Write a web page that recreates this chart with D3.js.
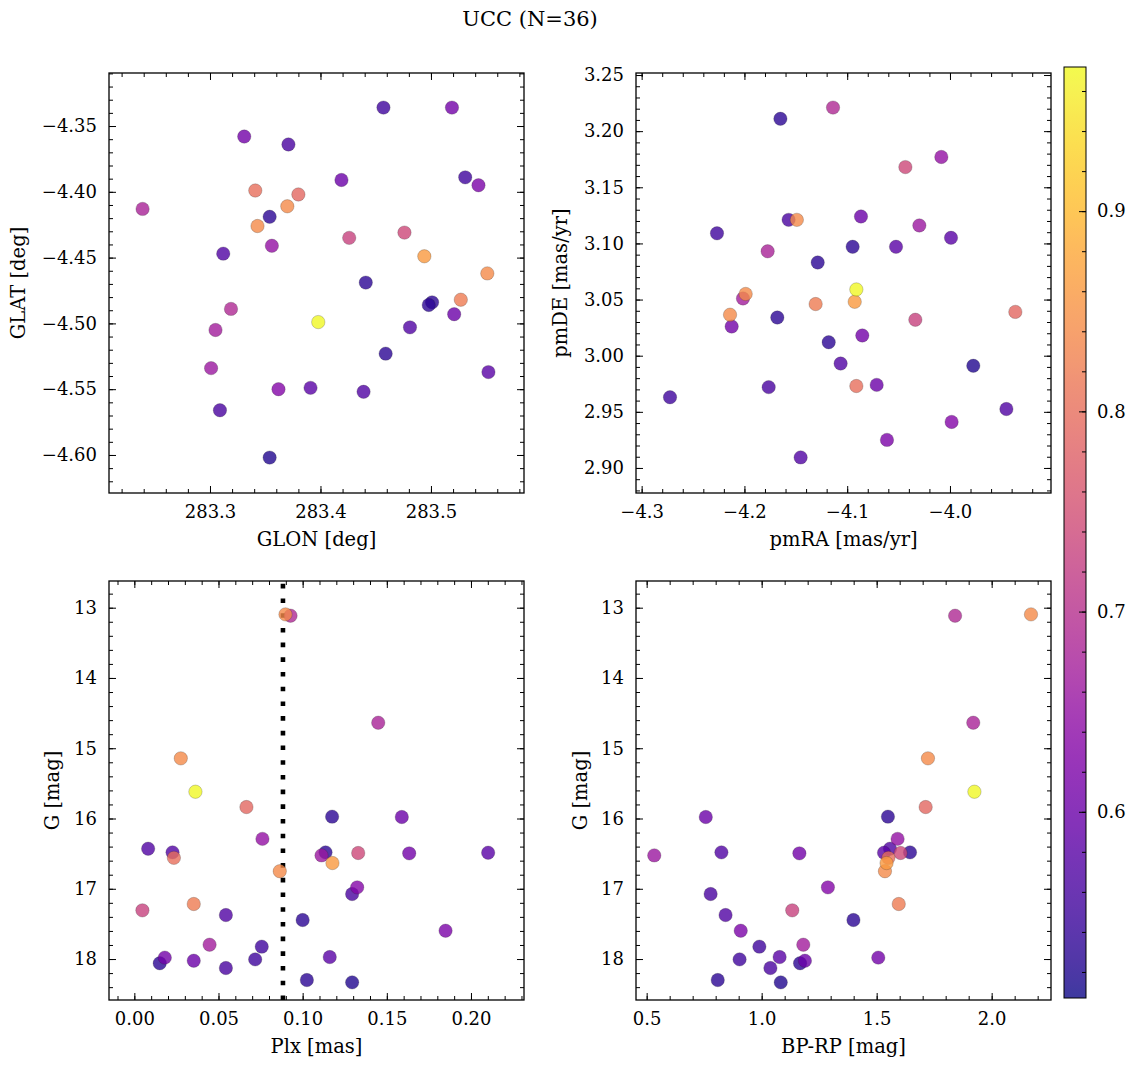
<!DOCTYPE html>
<html><head><meta charset="utf-8">
<script src="https://cdn.jsdelivr.net/npm/d3@7"></script>
<style>
body{margin:0;background:#fff}
svg{display:block}
text{font-family:"DejaVu Serif",serif;fill:#000}
</style>
</head><body>
<div id="chart"></div>
<script>
// ---- data (one entry per star) ----
const glon = [283.551,283.319,283.239,283.370,283.398,283.380,283.354,283.419,283.356,283.439,
              283.312,283.331,283.552,283.441,283.301,283.476,283.341,283.494,283.343,283.362,
              283.309,283.426,283.527,283.481,283.501,283.543,283.305,283.457,283.519,283.391,
              283.531,283.521,283.498,283.371,283.459,283.354];
const glat = [-4.462,-4.489,-4.413,-4.411,-4.499,-4.402,-4.419,-4.391,-4.441,-4.552,
              -4.447,-4.358,-4.537,-4.469,-4.534,-4.431,-4.399,-4.449,-4.426,-4.550,
              -4.566,-4.435,-4.482,-4.503,-4.484,-4.395,-4.505,-4.336,-4.336,-4.549,
              -4.389,-4.493,-4.486,-4.364,-4.523,-4.602];
const pmra = [-4.149,-4.1138,-4.1774,-4.1988,-4.0911,-3.9364,-4.165,-4.0713,-4.0084,-4.1064,
              -3.9451,-4.0853,-4.0525,-4.1287,-4.0298,-4.0434,-4.0911,-4.0927,-4.214,-3.9984,
              -4.157,-4.0337,-4.1307,-4.1453,-4.0947,-4.0613,-4.2014,-4.2724,-4.2124,-3.999,
              -4.2267,-4.0866,-4.168,-4.1764,-4.118,-3.9773];
const pmde = [3.121,3.221,3.093,3.055,3.059,3.039,3.211,2.974,3.177,2.993,
              2.9525,3.018,3.097,3.083,3.116,3.168,2.973,3.048,3.0365,2.941,
              3.121,3.032,3.046,2.9094,3.097,2.925,3.051,2.963,3.026,3.105,
              3.109,3.124,3.034,2.972,3.012,2.991];
const plx  = [0.0898,0.0928,0.1449,0.0276,0.0363,0.0666,0.1175,0.1589,0.0761,0.0082,
              0.0227,0.1633,0.2102,0.1136,0.1112,0.1330,0.0235,0.1177,0.0864,0.1324,
              0.1294,0.0048,0.0353,0.0544,0.1000,0.1849,0.0447,0.0757,0.0181,0.1161,
              0.0718,0.0353,0.0151,0.0544,0.1025,0.1294];
const gmag = [13.095,13.114,14.637,15.144,15.619,15.837,15.974,15.979,16.29,16.43,
              16.482,16.496,16.487,16.482,16.525,16.491,16.56,16.634,16.75,16.98,
              17.075,17.307,17.217,17.374,17.445,17.597,17.796,17.824,17.98,17.972,
              18.005,18.024,18.06,18.128,18.299,18.332];
const bprp = [2.171,1.841,1.920,1.723,1.925,1.713,1.549,0.757,1.591,1.558,
              0.825,1.164,1.532,1.645,0.533,1.604,1.551,1.543,1.536,1.288,
              0.778,1.133,1.596,0.843,1.399,0.909,1.181,0.990,1.507,1.078,
              0.904,1.188,1.167,1.038,0.809,1.083];
const prob = [0.84,0.69,0.68,0.84,0.97,0.79,0.53,0.60,0.65,0.57,
              0.57,0.61,0.58,0.53,0.66,0.74,0.80,0.86,0.84,0.63,
              0.56,0.73,0.82,0.57,0.53,0.62,0.67,0.55,0.61,0.58,
              0.55,0.60,0.53,0.56,0.53,0.52];
const plxLine = 0.0883;
const titleText = "UCC (N=36)";
const cbTicks = [0.6,0.7,0.8,0.9];

// ---- drawing ----
const W = 1136, H = 1067;
const FONT = '"DejaVu Serif", serif';
const svg = d3.select('#chart').append('svg').attr('width', W).attr('height', H);
const vmin = 0.507, vmax = 0.972;
const color = d3.scaleSequential(d3.interpolatePlasma).domain([vmin, vmax]);
const ALPHA = 0.8;

const stars = d3.range(prob.length).map(i => ({
  glon: glon[i], glat: glat[i], pmra: pmra[i], pmde: pmde[i],
  plx: plx[i], g: gmag[i], bprp: bprp[i], p: prob[i]
})).sort((a, b) => a.p - b.p);

function stepTicks(dom, step) {
  const lo = Math.min(dom[0], dom[1]), hi = Math.max(dom[0], dom[1]);
  const a = Math.ceil(lo / step - 1e-9), b = Math.floor(hi / step + 1e-9);
  return d3.range(a, b + 1).map(k => +(k * step).toFixed(6));
}

function styleAxis(g) {
  g.select('.domain').remove();
  g.selectAll('.tick line').attr('stroke', '#000').attr('stroke-width', 1);
  g.selectAll('text').style('font-family', FONT).style('font-size', '18px').attr('fill', '#000');
  g.attr('font-family', null).attr('font-size', null);
}

function panel(c) {
  const x = d3.scaleLinear().domain(c.xdom).range([c.x0, c.x1]);
  const y = d3.scaleLinear().domain(c.ydom).range([c.y1, c.y0]);
  const g = svg.append('g');
  const clipId = 'clip' + c.id;
  svg.append('clipPath').attr('id', clipId).append('rect')
    .attr('x', c.x0).attr('y', c.y0).attr('width', c.x1 - c.x0).attr('height', c.y1 - c.y0);
  const plot = g.append('g').attr('clip-path', `url(#${clipId})`);

  if (c.vline !== undefined) {
    plot.append('line')
      .attr('x1', x(c.vline)).attr('x2', x(c.vline))
      .attr('y1', c.y1).attr('y2', c.y0)
      .attr('stroke', '#000').attr('stroke-width', 4.6)
      .attr('stroke-dasharray', '4.6 10.1');
  }

  plot.selectAll('circle').data(stars).join('circle')
    .attr('cx', d => x(d[c.xkey])).attr('cy', d => y(d[c.ykey]))
    .attr('r', 6.7)
    .attr('fill', d => color(d.p)).attr('fill-opacity', ALPHA)
    .attr('stroke', '#222').attr('stroke-opacity', 0.45).attr('stroke-width', 0.5);

  const xMaj = stepTicks(c.xdom, c.xstep), xMin = stepTicks(c.xdom, c.xminor);
  const yMaj = stepTicks(c.ydom, c.ystep), yMin = stepTicks(c.ydom, c.yminor);

  // minor ticks
  g.append('g').attr('transform', `translate(0,${c.y1})`)
    .call(d3.axisBottom(x).tickValues(xMin).tickSize(-4).tickFormat('')).call(styleAxis);
  g.append('g').attr('transform', `translate(0,${c.y0})`)
    .call(d3.axisTop(x).tickValues(xMin).tickSize(-4).tickFormat('')).call(styleAxis);
  g.append('g').attr('transform', `translate(${c.x0},0)`)
    .call(d3.axisLeft(y).tickValues(yMin).tickSize(-4).tickFormat('')).call(styleAxis);
  g.append('g').attr('transform', `translate(${c.x1},0)`)
    .call(d3.axisRight(y).tickValues(yMin).tickSize(-4).tickFormat('')).call(styleAxis);
  // major ticks
  g.append('g').attr('transform', `translate(0,${c.y1})`)
    .call(d3.axisBottom(x).tickValues(xMaj).tickSize(-7).tickPadding(12).tickFormat(d3.format(c.xfmt))).call(styleAxis);
  g.append('g').attr('transform', `translate(0,${c.y0})`)
    .call(d3.axisTop(x).tickValues(xMaj).tickSize(-7).tickFormat('')).call(styleAxis);
  g.append('g').attr('transform', `translate(${c.x0},0)`)
    .call(d3.axisLeft(y).tickValues(yMaj).tickSize(-7).tickPadding(12).tickFormat(d3.format(c.yfmt))).call(styleAxis);
  g.append('g').attr('transform', `translate(${c.x1},0)`)
    .call(d3.axisRight(y).tickValues(yMaj).tickSize(-7).tickFormat('')).call(styleAxis);

  g.append('rect').attr('x', c.x0).attr('y', c.y0)
    .attr('width', c.x1 - c.x0).attr('height', c.y1 - c.y0)
    .attr('fill', 'none').attr('stroke', '#000').attr('stroke-width', 1.3);

  g.append('text').attr('x', (c.x0 + c.x1) / 2).attr('y', c.y1 + 53)
    .attr('text-anchor', 'middle').style('font-size', '19.5px').text(c.xlabel);
  g.append('text')
    .attr('transform', `translate(${c.ylx},${(c.y0 + c.y1) / 2}) rotate(-90)`)
    .attr('text-anchor', 'middle').style('font-size', '19.5px').text(c.ylabel);
}

panel({id: 1, x0: 109, x1: 524, y0: 73, y1: 493,
  xdom: [283.2086, 283.5842], ydom: [-4.6289, -4.3097],
  xstep: 0.1, xminor: 0.02, ystep: 0.05, yminor: 0.01, xfmt: '.1f', yfmt: '.2f',
  xkey: 'glon', ykey: 'glat', xlabel: 'GLON [deg]', ylabel: 'GLAT [deg]', ylx: 25});
panel({id: 2, x0: 636, x1: 1051, y0: 73, y1: 493,
  xdom: [-4.3055, -3.9017], ydom: [2.8777, 3.2518],
  xstep: 0.1, xminor: 0.02, ystep: 0.05, yminor: 0.01, xfmt: '.1f', yfmt: '.2f',
  xkey: 'pmra', ykey: 'pmde', xlabel: 'pmRA [mas/yr]', ylabel: 'pmDE [mas/yr]', ylx: 567});
panel({id: 3, x0: 109, x1: 524, y0: 581, y1: 1000,
  xdom: [-0.01505, 0.2315], ydom: [18.583, 12.620],
  xstep: 0.05, xminor: 0.01, ystep: 1, yminor: 0.2, xfmt: '.2f', yfmt: 'd',
  xkey: 'plx', ykey: 'g', xlabel: 'Plx [mas]', ylabel: 'G [mag]', ylx: 59, vline: plxLine});
panel({id: 4, x0: 636, x1: 1051, y0: 581, y1: 1000,
  xdom: [0.4536, 2.258], ydom: [18.583, 12.620],
  xstep: 0.5, xminor: 0.1, ystep: 1, yminor: 0.2, xfmt: '.1f', yfmt: 'd',
  xkey: 'bprp', ykey: 'g', xlabel: 'BP-RP [mag]', ylabel: 'G [mag]', ylx: 587});

// ---- colorbar ----
const cbX = 1064, cbW = 22, cbTop = 67, cbBot = 998;
const cy = d3.scaleLinear().domain([vmin, vmax]).range([cbBot, cbTop]);
const grad = svg.append('defs').append('linearGradient').attr('id', 'cbgrad')
  .attr('x1', 0).attr('y1', 1).attr('x2', 0).attr('y2', 0);
d3.range(0, 1.0001, 0.02).forEach(t => {
  grad.append('stop').attr('offset', t).attr('stop-color', d3.interpolatePlasma(t));
});
svg.append('rect').attr('x', cbX).attr('y', cbTop).attr('width', cbW).attr('height', cbBot - cbTop)
  .attr('fill', 'url(#cbgrad)').attr('fill-opacity', ALPHA);
const cbg = svg.append('g');
cbg.append('g').attr('transform', `translate(${cbX + cbW},0)`)
  .call(d3.axisRight(cy).tickValues(stepTicks([vmin, vmax], 0.02)).tickSize(-4).tickFormat('')).call(styleAxis);
cbg.append('g').attr('transform', `translate(${cbX + cbW},0)`)
  .call(d3.axisRight(cy).tickValues(cbTicks).tickSize(-7).tickPadding(11).tickFormat(d3.format('.1f'))).call(styleAxis);
svg.append('rect').attr('x', cbX).attr('y', cbTop).attr('width', cbW).attr('height', cbBot - cbTop)
  .attr('fill', 'none').attr('stroke', '#000').attr('stroke-width', 1);

// ---- title ----
svg.append('text').attr('x', 530).attr('y', 26).attr('text-anchor', 'middle')
  .style('font-size', '21px').text(titleText);
</script>
</body></html>
